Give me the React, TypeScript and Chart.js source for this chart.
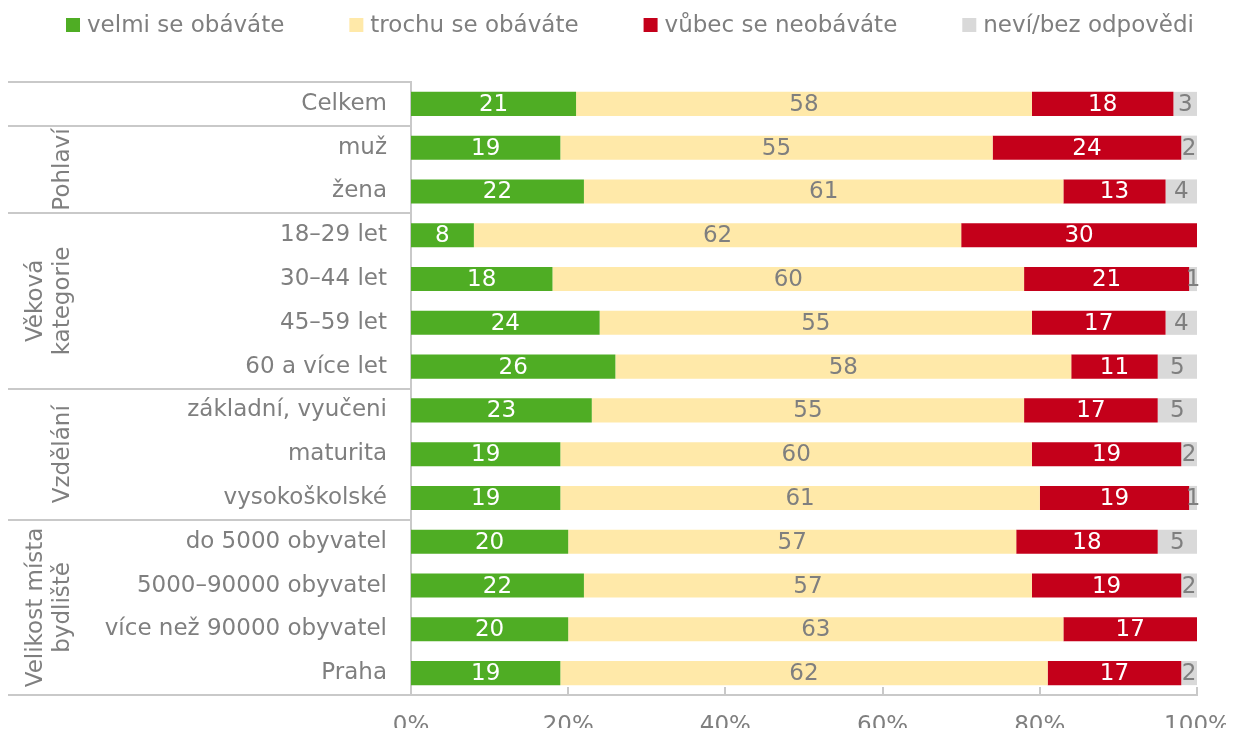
import { useEffect, useRef } from 'react';
import { Chart, registerables } from 'chart.js';

Chart.register(...registerables);

const categories = [
  'Celkem',
  'muž',
  'žena',
  '18–29 let',
  '30–44 let',
  '45–59 let',
  '60 a více let',
  'základní, vyučeni',
  'maturita',
  'vysokoškolské',
  'do 5000 obyvatel',
  '5000–90000 obyvatel',
  'více než 90000 obyvatel',
  'Praha',
];
const seriesNames = ['velmi se obáváte', 'trochu se obáváte', 'vůbec se neobáváte', 'neví/bez odpovědi'];
const velmi = [21, 19, 22, 8, 18, 24, 26, 23, 19, 19, 20, 22, 20, 19];
const trochu = [58, 55, 61, 62, 60, 55, 58, 55, 60, 61, 57, 57, 63, 62];
const vubec = [18, 24, 13, 30, 21, 17, 11, 17, 19, 19, 18, 19, 17, 17];
const nevi = [3, 2, 4, 0, 1, 4, 5, 5, 2, 1, 5, 2, 0, 2];
const groupLabels: string[][] = [[], ['Pohlaví'], ['Věková', 'kategorie'], ['Vzdělání'], ['Velikost místa', 'bydliště']];
const groupSizes = [1, 2, 4, 3, 4];
const xTickValues = [0, 20, 40, 60, 80, 100];

const FONT = '"DejaVu Sans", Verdana, sans-serif';
const FS = 23;
const TEXT = '#7f7f7f';
const LINE = '#c9c9c9';
const COLORS = ['#4fad24', '#ffe9a9', '#c4001a', '#d9d9d9'];
const LABEL_COLORS = ['#ffffff', '#7f7f7f', '#ffffff', '#7f7f7f'];

const decor = {
  id: 'decor',
  afterDatasetsDraw(chart: any) {
    const ctx = chart.ctx;
    const area = chart.chartArea;
    const x = chart.scales.x;
    ctx.save();
    // data labels
    ctx.font = `${FS}px ${FONT}`;
    ctx.textAlign = 'center';
    ctx.textBaseline = 'middle';
    chart.data.datasets.forEach((ds: any, di: number) => {
      const meta = chart.getDatasetMeta(di);
      meta.data.forEach((el: any, i: number) => {
        const v = ds.data[i];
        if (!v) return;
        ctx.fillStyle = LABEL_COLORS[di];
        ctx.fillText(String(v), (el.x + el.base) / 2, el.y + 1);
      });
    });
    // inside ticks on x axis
    ctx.strokeStyle = LINE;
    ctx.lineWidth = 2;
    xTickValues.forEach((v) => {
      const px = Math.round(x.getPixelForValue(v));
      ctx.beginPath();
      ctx.moveTo(px, area.bottom - 8);
      ctx.lineTo(px, area.bottom);
      ctx.stroke();
    });
    // group lines
    const band = (area.bottom - area.top) / categories.length;
    let start = 0;
    const bounds: number[] = [area.top];
    groupSizes.forEach((n) => {
      start += n;
      bounds.push(area.top + band * start);
    });
    bounds.forEach((by) => {
      ctx.beginPath();
      ctx.moveTo(0, Math.round(by));
      ctx.lineTo(area.left, Math.round(by));
      ctx.stroke();
    });
    // group labels
    ctx.fillStyle = TEXT;
    ctx.font = `${FS}px ${FONT}`;
    groupLabels.forEach((lines, gi) => {
      if (!lines.length) return;
      const cy = (bounds[gi] + bounds[gi + 1]) / 2;
      const lastX = 55;
      const lh = 27;
      lines.forEach((t, li) => {
        const cx = lastX - (lines.length - 1 - li) * lh;
        ctx.save();
        ctx.translate(cx, cy);
        ctx.rotate(-Math.PI / 2);
        ctx.textAlign = 'center';
        ctx.textBaseline = 'middle';
        ctx.fillText(t, 0, 0);
        ctx.restore();
      });
    });
    // legend
    ctx.font = `${FS}px ${FONT}`;
    const boxW = 14;
    const gapBT = 7;
    const itemGap = 65;
    const widths = chart.data.datasets.map((ds: any) => ctx.measureText(ds.label).width);
    const total = widths.reduce((a: number, w: number) => a + boxW + gapBT + w, 0) + itemGap * (widths.length - 1);
    let lx = 622 - total / 2;
    const ly = 17;
    chart.data.datasets.forEach((ds: any, di: number) => {
      ctx.fillStyle = COLORS[di];
      ctx.fillRect(lx, ly - boxW / 2, boxW, boxW);
      ctx.fillStyle = TEXT;
      ctx.textAlign = 'left';
      ctx.textBaseline = 'middle';
      ctx.fillText(ds.label, lx + boxW + gapBT, ly + 1);
      lx += boxW + gapBT + widths[di] + itemGap;
    });
    ctx.restore();
  },
};

export default function App() {
  const ref = useRef<HTMLCanvasElement>(null);
  useEffect(() => {
    const values = [velmi, trochu, vubec, nevi];
    const chart = new Chart(ref.current as HTMLCanvasElement, {
      type: 'bar',
      data: {
        labels: categories,
        datasets: values.map((d, i) => ({
          label: seriesNames[i],
          data: d,
          backgroundColor: COLORS[i],
          borderWidth: 0,
          barPercentage: 0.55,
          categoryPercentage: 1,
        })),
      },
      options: {
        indexAxis: 'y',
        responsive: false,
        animation: false,
        layout: { padding: { top: 74, right: 37, left: 0, bottom: 0 } },
        plugins: { legend: { display: false }, tooltip: { enabled: false } },
        scales: {
          x: {
            stacked: true,
            min: 0,
            max: 100,
            grid: { display: false, drawTicks: false },
            border: { display: true, color: LINE, width: 2 },
            ticks: {
              stepSize: 20,
              callback: (v: any) => v + '%',
              color: TEXT,
              font: { family: FONT, size: FS },
              padding: 17,
              maxRotation: 0,
            },
            afterFit: (s: any) => {
              s.height = 41;
              s.paddingLeft = 0;
              s.paddingRight = 0;
            },
          },
          y: {
            stacked: true,
            grid: { display: false, drawTicks: false },
            border: { display: true, color: LINE, width: 2 },
            ticks: {
              color: TEXT,
              font: { family: FONT, size: FS },
              padding: 24,
              autoSkip: false,
            },
            afterFit: (s: any) => {
              s.width = 403;
              s.paddingTop = 0;
              s.paddingBottom = 0;
            },
          },
        },
      } as any,
      plugins: [decor],
    });
    return () => chart.destroy();
  }, []);
  return (
    <canvas
      ref={ref}
      width={1226}
      height={728}
      style={{ display: 'block', marginBottom: -8 }}
    />
  );
}
